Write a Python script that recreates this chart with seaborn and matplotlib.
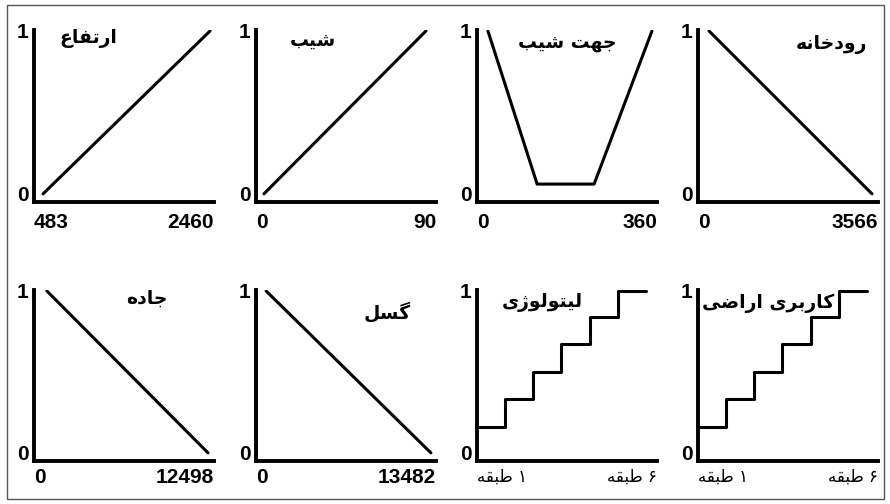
import matplotlib
matplotlib.use('Agg')
import matplotlib.pyplot as plt
import seaborn as sns
from matplotlib.patches import Rectangle

sns.set_theme(style='white')
plt.rcParams['font.family'] = ['DejaVu Sans']
plt.rcParams['text.color'] = 'black'
plt.rcParams['xtick.color'] = 'black'
plt.rcParams['ytick.color'] = 'black'

# Data (fuzzy membership functions)
panel_titles = ['ارتفاع', 'شیب', 'جهت شیب', 'رودخانه', 'جاده', 'گسل', 'لیتولوژی', 'کاربری اراضی']
elev_x = [483, 2460]
elev_y = [0, 1]
slope_x = [0, 90]
slope_y = [0, 1]
aspect_x = [0, 108, 233, 360]
aspect_y = [1, 0.06, 0.06, 1]
river_x = [0, 3566]
river_y = [1, 0]
road_x = [0, 12498]
road_y = [1, 0]
fault_x = [0, 13482]
fault_y = [1, 0]
class_x = [0, 1, 2, 3, 4, 5, 6]
litho_y = [0.16, 0.33, 0.5, 0.67, 0.84, 1.0]
landuse_y = [0.16, 0.33, 0.5, 0.67, 0.84, 1.0]
class_labels = ['طبقه ۱', 'طبقه ۶']

# matplotlib has no arabic shaping, so pick the presentation forms by hand
FORMS = {
    'ا': ('\uFE8D', '\uFE8E', None, None),
    'ر': ('\uFEAD', '\uFEAE', None, None),
    'ژ': ('\uFB8A', '\uFB8B', None, None),
    'د': ('\uFEA9', '\uFEAA', None, None),
    'و': ('\uFEED', '\uFEEE', None, None),
    'ت': ('\uFE95', '\uFE96', '\uFE97', '\uFE98'),
    'ب': ('\uFE8F', '\uFE90', '\uFE91', '\uFE92'),
    'ف': ('\uFED1', '\uFED2', '\uFED3', '\uFED4'),
    'ع': ('\uFEC9', '\uFECA', '\uFECB', '\uFECC'),
    'ش': ('\uFEB5', '\uFEB6', '\uFEB7', '\uFEB8'),
    'ی': ('\uFBFC', '\uFBFD', '\uFBFE', '\uFBFF'),
    'ج': ('\uFE9D', '\uFE9E', '\uFE9F', '\uFEA0'),
    'ه': ('\uFEE9', '\uFEEA', '\uFEEB', '\uFEEC'),
    'خ': ('\uFEA5', '\uFEA6', '\uFEA7', '\uFEA8'),
    'ن': ('\uFEE5', '\uFEE6', '\uFEE7', '\uFEE8'),
    'گ': ('\uFB92', '\uFB93', '\uFB94', '\uFB95'),
    'س': ('\uFEB1', '\uFEB2', '\uFEB3', '\uFEB4'),
    'ل': ('\uFEDD', '\uFEDE', '\uFEDF', '\uFEE0'),
    'ک': ('\uFB8E', '\uFB8F', '\uFB90', '\uFB91'),
    'ض': ('\uFEBD', '\uFEBE', '\uFEBF', '\uFEC0'),
    'ط': ('\uFEC1', '\uFEC2', '\uFEC3', '\uFEC4'),
    'ق': ('\uFED5', '\uFED6', '\uFED7', '\uFED8'),
}


def fa(text):
    out = []
    for i, c in enumerate(text):
        if c not in FORMS:
            out.append(c)
            continue
        iso, fin, ini, med = FORMS[c]
        prev = text[i - 1] if i > 0 else None
        nxt = text[i + 1] if i + 1 < len(text) else None
        jp = prev in FORMS and FORMS[prev][2] is not None
        jn = nxt in FORMS and ini is not None
        if jp and jn:
            out.append(med)
        elif jp:
            out.append(fin)
        elif jn:
            out.append(ini)
        else:
            out.append(iso)
    return ''.join(out)[::-1]


def class_label(s):
    word, num = s.split(' ')
    return fa(word) + ' ' + num


num_font = ['Liberation Sans', 'DejaVu Sans']

W, H = 890, 504
fig = plt.figure(figsize=(W / 100, H / 100), dpi=100)
fig.patch.set_facecolor('white')
fig.add_artist(Rectangle((7 / W, 5 / H), 877 / W, 494 / H, transform=fig.transFigure,
                         fill=False, edgecolor='#555555', lw=1))

col_x = [34, 256, 477, 698]
row_y = [(30, 202), (290, 461)]

panels = [
    (elev_x, elev_y, (376, 2507), ['483', '2460'], (0.30, 0.953)),
    (slope_x, slope_y, (-4.4, 95.6), ['0', '90'], (0.317, 0.942)),
    (aspect_x, aspect_y, (-24, 371), ['0', '360'], (0.5, 0.93)),
    (river_x, river_y, (-241, 3697), ['0', '3566'], (0.744, 0.913)),
    (road_x, road_y, (-997, 12958), ['0', '12498'], (0.628, 0.953)),
    (fault_x, fault_y, (-827, 13896), ['0', '13482'], (0.728, 0.871)),
    (class_x, litho_y + [litho_y[-1]], (0, 6.4), [class_label(l) for l in class_labels], (0.361, 0.924)),
    (class_x, landuse_y + [landuse_y[-1]], (0, 6.4), [class_label(l) for l in class_labels], (0.39, 0.924)),
]

for i, (xs, ys, xlim, xlabels, tpos) in enumerate(panels):
    r, c = divmod(i, 4)
    top, bot = row_y[r]
    ax = fig.add_axes([col_x[c] / W, 1 - bot / H, 180 / W, (bot - top) / H])
    ax.set_facecolor('none')
    kw = {'drawstyle': 'steps-post'} if i >= 6 else {}
    sns.lineplot(x=xs, y=ys, ax=ax, color='black', lw=2.2, estimator=None, sort=False, **kw)
    ax.set_xlim(*xlim)
    ax.set_ylim(-0.05, 1.006)
    for s in ['top', 'right']:
        ax.spines[s].set_visible(False)
    for s in ['left', 'bottom']:
        ax.spines[s].set_color('black')
        ax.spines[s].set_linewidth(2.8)
    ax.set_yticks([0, 1])
    ax.set_yticklabels(['0', '1'], fontsize=15, fontweight='bold', family=num_font)
    ax.set_xticks(list(xlim))
    if i >= 6:
        ax.set_xticklabels(xlabels, fontsize=12)
    else:
        ax.set_xticklabels(xlabels, fontsize=15, fontweight='bold', family=num_font)
    labs = ax.get_xticklabels()
    labs[0].set_ha('left')
    labs[1].set_ha('right')
    ax.tick_params(axis='both', length=0)
    ax.tick_params(axis='x', pad=8 if r == 0 else 5)
    ax.tick_params(axis='y', pad=4)
    ax.set_xlabel('')
    ax.set_ylabel('')
    ax.text(tpos[0], tpos[1], fa(panel_titles[i]), transform=ax.transAxes,
            ha='center', va='center', fontsize=13.5, fontweight='bold', color='black')

fig.savefig('out.png', dpi=100)
